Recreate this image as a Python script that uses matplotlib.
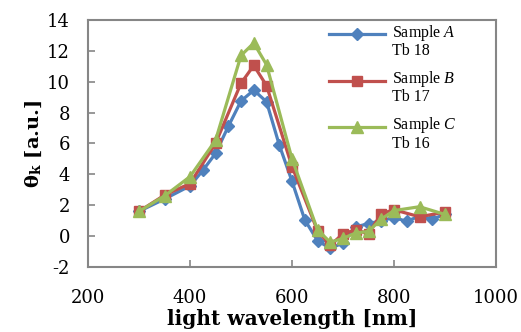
import numpy as np
import matplotlib
matplotlib.use('Agg')
import matplotlib.pyplot as plt
from matplotlib.legend_handler import HandlerLine2D

plt.rcParams['font.family'] = 'Liberation Serif'
plt.rcParams['mathtext.fontset'] = 'custom'
plt.rcParams['mathtext.rm'] = 'DejaVu Serif'
plt.rcParams['mathtext.it'] = 'Liberation Serif:italic'
plt.rcParams['mathtext.bf'] = 'DejaVu Serif:bold'
plt.rcParams['axes.unicode_minus'] = False

# sample A has extra points in between
xa = [300, 350, 400, 425, 450, 475, 500, 525, 550, 575, 600, 625, 650, 675,
      700, 725, 750, 775, 800, 825, 850, 875, 900]
ya = [1.6, 2.4, 3.25, 4.25, 5.35, 7.1, 8.75, 9.45, 8.7, 5.9, 3.55, 1.05, -0.3,
      -0.8, -0.45, 0.6, 0.8, 1.0, 1.2, 0.95, 1.3, 1.1, 1.4]

xbc = [300, 350, 400, 450, 500, 525, 550, 600, 650, 675, 700, 725, 750, 775,
       800, 850, 900]
yb = [1.6, 2.65, 3.4, 6.0, 9.9, 11.05, 9.75, 4.5, 0.35, -0.6, 0.15, 0.4, 0.15,
      1.45, 1.7, 1.25, 1.55]
yc = [1.6, 2.6, 3.85, 6.2, 11.7, 12.5, 11.1, 5.0, 0.4, -0.4, -0.15, 0.2, 0.3,
      1.1, 1.65, 1.9, 1.4]

labels = ['Sample $\\it{A}$\nTb 18', 'Sample $\\it{B}$\nTb 17', 'Sample $\\it{C}$\nTb 16']


class FirstLineHandler(HandlerLine2D):
    # put the handle next to the first line of a two line label
    def create_artists(self, legend, orig_handle, xdescent, ydescent,
                       width, height, fontsize, trans):
        arts = super().create_artists(legend, orig_handle, xdescent, ydescent,
                                      width, height, fontsize, trans)
        for a in arts:
            a.set_ydata(np.asarray(a.get_ydata()) + 5.0)
        return arts


fig = plt.figure(figsize=(5.21, 3.32), dpi=100)
ax = fig.add_axes([0.169, 0.196, 0.783, 0.744])

l1, = ax.plot(xa, ya, color='#4F81BD', lw=2.3, marker='D', ms=6, label=labels[0])
l2, = ax.plot(xbc, yb, color='#C0504D', lw=2.3, marker='s', ms=7.5, label=labels[1])
l3, = ax.plot(xbc, yc, color='#9BBB59', lw=2.3, marker='^', ms=8.5, label=labels[2])

ax.set_xlim(200, 1000)
ax.set_ylim(-2, 14)
ax.set_xticks([200, 400, 600, 800, 1000])
ax.set_yticks(np.arange(-2, 15, 2))
ax.tick_params(direction='in', length=5, width=1.2, color='#868686', labelsize=13)
ax.tick_params(axis='x', pad=16)
ax.tick_params(axis='y', pad=13)
for lab in ax.get_xticklabels() + ax.get_yticklabels():
    lab.set_fontfamily('DejaVu Serif')
for s in ax.spines.values():
    s.set_color('#868686')
    s.set_linewidth(1.5)

ax.set_xlabel('light wavelength [nm]', fontsize=14.5, fontweight='bold',
              family='DejaVu Serif', labelpad=1)
ax.set_ylabel('θ$_\\mathbf{k}$ [a.u.]', fontsize=14, fontweight='bold',
              family='DejaVu Serif', labelpad=2)

hm = {l: FirstLineHandler() for l in (l1, l2, l3)}
leg = ax.legend(loc='upper left', bbox_to_anchor=(0.556, 1.047), frameon=False,
                fontsize=11.5, handlelength=3.5, labelspacing=0.6,
                handletextpad=0.4, handler_map=hm)
for t in leg.get_texts():
    t.set_linespacing(1.05)

fig.savefig('out.png', dpi=100)
